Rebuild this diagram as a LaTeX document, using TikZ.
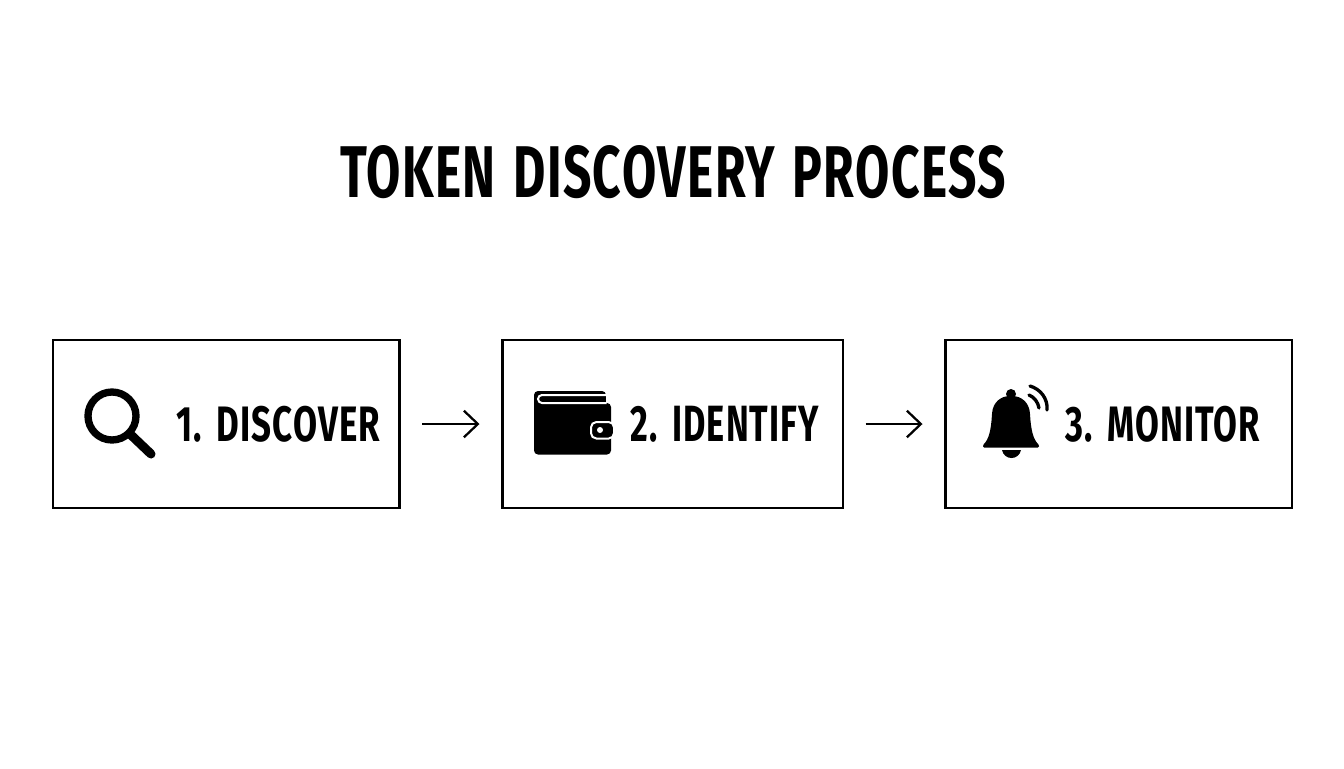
\documentclass[tikz,border=0pt]{standalone}
\usepackage{fontspec}
\usepackage{graphicx}
\setmainfont{Fira Sans}[LetterSpace=3,WordSpace=1.3]
\usetikzlibrary{arrows.meta}
\tikzset{
  x=0.75pt,y=-0.75pt,
  stagebox/.style={draw=black,line width=2pt,fill=white,inner sep=0pt,minimum height=126pt},
  flow/.style={draw=black,line width=1.7pt,shorten <=16pt,shorten >=16pt,-{Straight Barb[length=10.5pt,width=20pt,line width=1.7pt]}},
  lbl/.style={inner sep=0pt,text=black},
}
\newcommand{\fit}[3]{\resizebox{#1pt}{#2pt}{\bfseries #3}}
\begin{document}
\begin{tikzpicture}
\useasboundingbox (0,0) rectangle (1344,768);
\fill[white] (0,0) rectangle (1344,768);
\node[lbl] (title) at (673,172) {\fit{499.5}{39}{TOKEN DISCOVERY PROCESS}};
\node[stagebox,minimum width=260pt] (b1) at (226.25,424) {};
\node[stagebox,minimum width=255.5pt] (b2) at (672.5,424) {};
\node[stagebox,minimum width=260pt] (b3) at (1118.5,424) {};
\draw[flow] (b1) -- (b2);
\draw[flow] (b2) -- (b3);
\node[lbl] (l1) at (278,424.5) {\fit{153}{26.5}{1. DISCOVER}};
\node[lbl] (l2) at (724.5,424.5) {\fit{141}{26.5}{2. IDENTIFY}};
\node[lbl] (l3) at (1162.5,424.5) {\fit{146}{26.5}{3. MONITOR}};
% magnifier
\draw[black,line width=5.5pt] (112,416) circle (24);
\draw[black,line width=6.8pt,line cap=round] (130,434) -- (151,454);
% wallet
\fill[black,rounded corners=3pt] (534,403) rectangle (611,454.5);
\fill[black,rounded corners=3pt] (534,425) -- (534,391) -- (606,391) -- (606,425) -- cycle;
\fill[black] (590,395) rectangle (606,410);
\draw[white,line width=1.5pt] (606.5,395) -- (542,395) arc[start angle=270,end angle=90,radius=4] -- (606.5,403);
\fill[white] (606,391) rectangle (612,403);
\filldraw[black,draw=white,line width=1.5pt,rounded corners=4pt] (591,422) rectangle (614,438.5);
\fill[white] (600,430) circle (3);
% bell
\fill[black] (1011,394) circle (5);
\fill[black,rounded corners=0.8pt] (983,447.5) -- (1039,447.5) -- (1039,445) .. controls (1033,439) and (1031,430) .. (1030,414) .. controls (1029,402) and (1021,396) .. (1011,396) .. controls (1001,396) and (993,402) .. (992,414) .. controls (991,430) and (989,439) .. (983,445) -- cycle;
\fill[black] (1002,450) .. controls (1003,455) and (1007,458) .. (1011.5,458) .. controls (1016,458) and (1020,455) .. (1021,450) -- cycle;
\draw[black,line width=2.5pt,line cap=round] (1029,395) .. controls (1034,397) and (1038,402) .. (1039,408);
\draw[black,line width=2.5pt,line cap=round] (1030,386) .. controls (1040,389) and (1048,398) .. (1047,410);
\end{tikzpicture}
\end{document}
